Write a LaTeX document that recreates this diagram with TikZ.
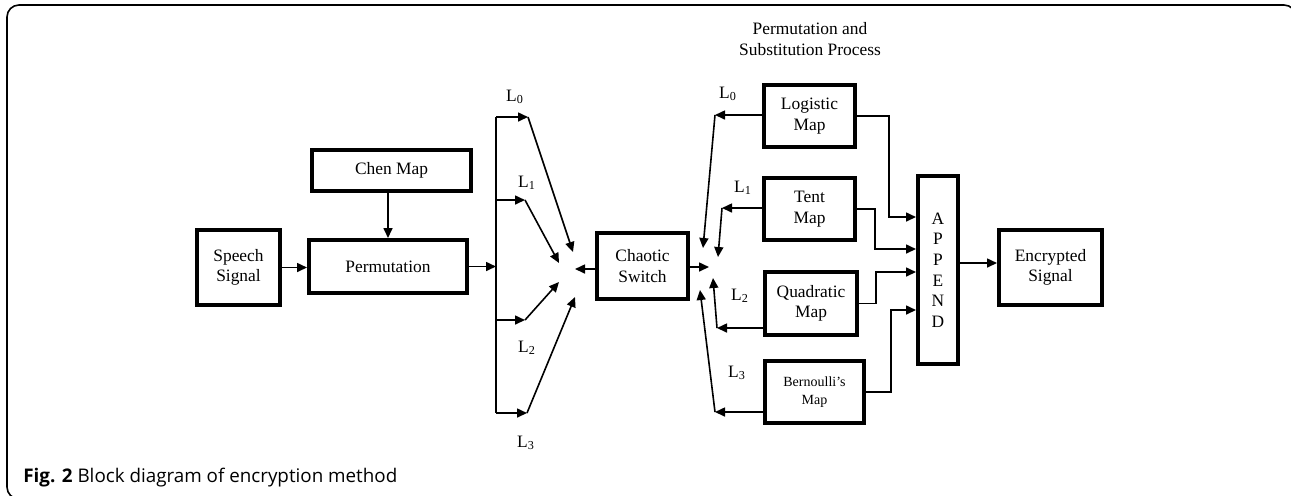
\documentclass[tikz,border=0pt]{standalone}
\usepackage{fontspec}
\setmainfont{Liberation Serif}
\newfontfamily\capfont{Open Sans}
\usetikzlibrary{arrows.meta}

\begin{document}
\begin{tikzpicture}[x=0.5pt, y=-0.5pt,
    blk/.style={rectangle, draw, line width=2pt, inner sep=0pt,
        font=\fontsize{8.7}{10.3}\selectfont, align=center},
    arr/.style={-{Triangle[length=5pt,width=4.5pt]}, line width=0.8pt},
    wire/.style={line width=0.8pt},
    lbl/.style={inner sep=0pt, font=\fontsize{8.7}{10.3}\selectfont, align=center}
]
    \useasboundingbox (0,0) rectangle (1291,495);
    \begin{scope}
        \clip (0,0) rectangle (1291,495);
        \draw[line width=0.8pt, rounded corners=6pt] (1296,40) -- (1296,5) -- (7,5) -- (7,499) -- (40,499);
    \end{scope}

    % left part
    \node[blk, minimum width=41.5pt, minimum height=37.5pt] (speech) at (238.5,267.5) {Speech\\Signal};
    \node[blk, minimum width=79pt, minimum height=26.5pt] (perm) at (388,266.5) {Permutation};
    \node[blk, minimum width=79.5pt, minimum height=20.5pt] (chen) at (391.5,170.5) {Chen Map};

    \draw[arr] (speech.east) -- (speech.east -| perm.west);
    \draw[arr] (chen.south -| perm) -- (perm.north);

    \coordinate (b0) at (496,117);
    \coordinate (b3) at (496,413);
    \coordinate (s0) at (528,117);
    \coordinate (s1) at (525,200);
    \coordinate (s2) at (525,320);
    \coordinate (s3) at (527,413);
    \coordinate (c0) at (573,252);
    \coordinate (c1) at (559,263);
    \coordinate (c2) at (559,282);
    \coordinate (c3) at (575,297);

    \draw[arr] (perm.east) -- (perm.east -| b0);
    \draw[wire] (b0) -- (b3);
    \draw[arr] (b0) -- (s0);
    \draw[arr] (b0 |- s1) -- (s1);
    \draw[arr] (b0 |- s2) -- (s2);
    \draw[arr] (b3) -- (s3);
    \draw[arr] (s0) -- (c0);
    \draw[arr] (s1) -- (c1);
    \draw[arr] (s2) -- (c2);
    \draw[arr] (s3) -- (c3);

    \node[lbl] (la0) at (515,97) {L\textsubscript{0}};
    \node[lbl] (la1) at (527,183) {L\textsubscript{1}};
    \node[lbl] (la2) at (527,348) {L\textsubscript{2}};
    \node[lbl] (la3) at (526,443) {L\textsubscript{3}};

    % switch
    \node[blk, minimum width=45.5pt, minimum height=33pt] (sw) at (642.5,266) {Chaotic\\Switch};
    \coordinate (cin) at (575,269);
    \coordinate (cout) at (709,267);
    \draw[arr] (sw.west |- cin) -- (cin);
    \draw[arr] (sw.east |- cout) -- (cout);

    % permutation and substitution
    \node[lbl] (ttl) at (810,39) {Permutation and\\Substitution Process};
    \node[blk, minimum width=45.5pt, minimum height=31pt] (logi) at (809.5,116) {Logistic\\Map};
    \node[blk, minimum width=45.5pt, minimum height=31pt] (tent) at (809.5,209) {Tent\\Map};
    \node[blk, minimum width=46pt, minimum height=31.5pt] (quad) at (811,303.5) {Quadratic\\Map};
    \node[blk, minimum width=49.5pt, minimum height=31pt,
        font=\fontsize{7}{8.8}\selectfont] (bern) at (814.5,392) {Bernoulli's\\Map};

    \coordinate (r0) at (715,115);
    \coordinate (r1) at (722,208);
    \coordinate (r2) at (717,328);
    \coordinate (r3) at (715,412);
    \coordinate (d0) at (703,248);
    \coordinate (d1) at (718,257);
    \coordinate (d2) at (713,278);
    \coordinate (d3) at (700,290);

    \draw[arr] (logi.west |- r0) -- (r0);
    \draw[arr] (r0) -- (d0);
    \draw[arr] (tent.west |- r1) -- (r1);
    \draw[arr] (r1) -- (d1);
    \draw[arr] (quad.west |- r2) -- (r2);
    \draw[arr] (r2) -- (d2);
    \draw[arr] (bern.west |- r3) -- (r3);
    \draw[arr] (r3) -- (d3);

    \node[lbl] (lb0) at (728,94) {L\textsubscript{0}};
    \node[lbl] (lb1) at (743,188) {L\textsubscript{1}};
    \node[lbl] (lb2) at (740,296) {L\textsubscript{2}};
    \node[lbl] (lb3) at (737,373) {L\textsubscript{3}};

    % append and output
    \node[blk, minimum width=20pt, minimum height=94pt] (app) at (938,270) {A\\P\\P\\E\\N\\D};
    \node[blk, minimum width=51.5pt, minimum height=37.5pt] (enc) at (1050.5,267.5) {Encrypted\\Signal};

    \coordinate (a0) at (889,217);
    \coordinate (a1) at (875,249);
    \coordinate (a2) at (876,272);
    \coordinate (a3) at (891,310);
    \coordinate (ao) at (997,263);

    \draw[arr] (logi.east) -| (a0) -- (a0 -| app.west);
    \draw[arr] (tent.east) -| (a1) -- (a1 -| app.west);
    \draw[arr] (quad.east) -| (a2) -- (a2 -| app.west);
    \draw[arr] (bern.east) -| (a3) -- (a3 -| app.west);
    \draw[arr] (app.east |- ao) -- (enc.west |- ao);

    \node[anchor=base west, inner sep=0pt, font=\capfont\fontsize{9.4}{11}\selectfont] (cap)
        at (23,482) {\textbf{Fig. 2} Block diagram of encryption method};
\end{tikzpicture}
\end{document}
